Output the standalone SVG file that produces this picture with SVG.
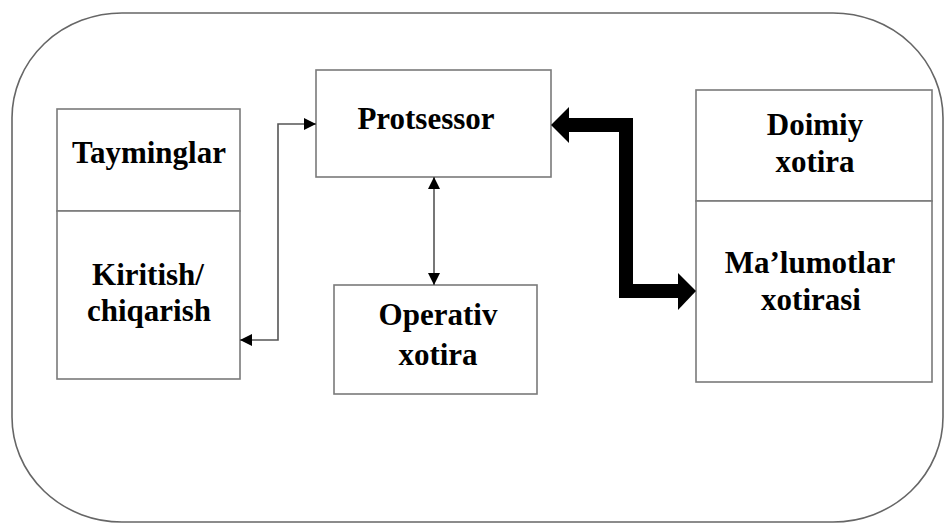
<svg xmlns="http://www.w3.org/2000/svg" width="945" height="524" viewBox="0 0 945 524">
<defs>
<marker id="ah" viewBox="0 0 12 12" refX="12" refY="6" markerWidth="12" markerHeight="12" markerUnits="userSpaceOnUse" orient="auto-start-reverse">
<path d="M0,0 L12,6 L0,12 Z" fill="#000"/>
</marker>
</defs>
<rect x="12" y="13" width="931" height="509" rx="110" ry="105" fill="#fff" stroke="#666" stroke-width="1.6"/>
<g fill="#fff" stroke="#7a7a7a" stroke-width="1.6">
<rect id="tayminglar-box" x="57" y="109" width="183" height="102"/>
<rect id="kiritish-box" x="57" y="211" width="183" height="168"/>
<rect id="protsessor-box" x="316" y="70" width="235" height="107"/>
<rect id="operativ-box" x="334" y="285" width="203" height="109"/>
<rect id="doimiy-box" x="696" y="90" width="236" height="111"/>
<rect id="malumotlar-box" x="696" y="201" width="236" height="181"/>
</g>
<g font-family="Liberation Serif" font-weight="bold" font-size="31" text-anchor="middle" fill="#000">
<text id="tayminglar" x="149" y="163">Tayminglar</text>
<text id="kiritish" x="148" y="285">Kiritish/<tspan x="149" y="321">chiqarish</tspan></text>
<text id="protsessor" x="426" y="129">Protsessor</text>
<text id="operativ" x="438" y="325">Operativ<tspan x="438" y="365">xotira</tspan></text>
<text id="doimiy" x="815" y="135">Doimiy<tspan x="815" y="172">xotira</tspan></text>
<text id="malumotlar" x="810" y="273">Ma&#8217;lumotlar<tspan x="811" y="310">xotirasi</tspan></text>
</g>
<g id="connectors">
<path d="M240,340 L278,340 L278,124 L316,124" fill="none" stroke="#555" stroke-width="1.6" marker-start="url(#ah)" marker-end="url(#ah)"/>
<path d="M434,177 L434,285" fill="none" stroke="#555" stroke-width="1.6" marker-start="url(#ah)" marker-end="url(#ah)"/>
<path d="M568,125 L626,125 L626,291 L680,291" fill="none" stroke="#000" stroke-width="14"/>
<polygon points="551,125 569,107 569,143" fill="#000"/>
<polygon points="696,291 678,273 678,310" fill="#000"/>
</g>
</svg>
